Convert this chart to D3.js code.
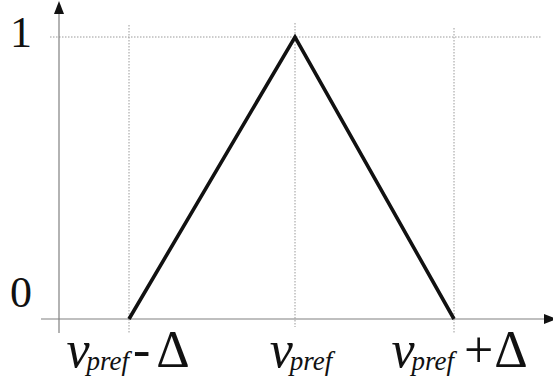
<!DOCTYPE html>
<html>
<head>
<meta charset="utf-8">
<script src="https://cdn.jsdelivr.net/npm/d3@7"></script>
<style>
  html, body { margin: 0; padding: 0; background: #fff; }
  svg { display: block; }
</style>
</head>
<body>
<div id="chart"></div>
<script>
// triangular membership: 0 at vpref-Δ, 1 at vpref, 0 at vpref+Δ
const xValues = [-1, 0, 1];
const yValues = [0, 1, 0];
const yTicks = [0, 1];
const yTickLabels = ['0', '1'];
const xTickLabels = [
  { sub: 'pref', sign: '-', delta: '\u0394', gap: 4, deltaGap: 6 },
  { sub: 'pref', sign: '', delta: '', gap: 0, deltaGap: 0 },
  { sub: 'pref', sign: '+', delta: '\u0394', gap: 10, deltaGap: 1 }
];

const width = 553, height = 387;
const serif = 'Liberation Serif, Times New Roman, serif';

const svg = d3.select('#chart')
  .append('svg')
  .attr('width', width)
  .attr('height', height);

// piecewise scale, the peak is slightly right of the midpoint in the picture
const x = d3.scaleLinear().domain([-1, 0, 1]).range([129, 295, 454]);
const y = d3.scaleLinear().domain([0, 1]).range([319, 37]);

const axisX = 59;          // y axis position
const axisColor = '#808080';
const gridColor = '#9a9a9a';

// dotted guides
svg.append('line')
  .attr('x1', 50).attr('x2', 542)
  .attr('y1', y(1)).attr('y2', y(1))
  .attr('stroke', gridColor)
  .attr('stroke-width', 1)
  .attr('stroke-dasharray', '1.5,1.5');

const guideTop = [25, 23, 28];
svg.selectAll('.guide')
  .data(xValues)
  .enter()
  .append('line')
  .attr('class', 'guide')
  .attr('x1', d => x(d)).attr('x2', d => x(d))
  .attr('y1', (d, i) => guideTop[i])
  .attr('y2', (d, i) => i === 1 ? 327 : 333)
  .attr('stroke', gridColor)
  .attr('stroke-width', 1)
  .attr('stroke-dasharray', '1.5,1.5');

// axes
svg.append('line')
  .attr('x1', axisX).attr('x2', axisX)
  .attr('y1', 10).attr('y2', 333)
  .attr('stroke', axisColor).attr('stroke-width', 1.2);
svg.append('path')
  .attr('d', `M${axisX},1 L${axisX - 5},14 L${axisX + 5},14 Z`)
  .attr('fill', '#111');

svg.append('line')
  .attr('x1', 41).attr('x2', 548)
  .attr('y1', y(0)).attr('y2', y(0))
  .attr('stroke', axisColor).attr('stroke-width', 1.2);
svg.append('path')
  .attr('d', `M557,${y(0)} L544,${y(0) - 5} L544,${y(0) + 5} Z`)
  .attr('fill', '#111');

// triangle
const line = d3.line()
  .x((d, i) => x(xValues[i]))
  .y(d => y(d));

svg.append('path')
  .datum(yValues)
  .attr('d', line)
  .attr('fill', 'none')
  .attr('stroke', '#111')
  .attr('stroke-width', 3.6)
  .attr('stroke-linejoin', 'miter');

// y tick labels
svg.selectAll('.ylab')
  .data(yTicks)
  .enter()
  .append('text')
  .attr('class', 'ylab')
  .attr('x', 21)
  .attr('y', d => y(d) + (d === 0 ? -12 : 10))
  .attr('text-anchor', 'middle')
  .attr('font-family', serif)
  .attr('font-size', 44)
  .attr('fill', '#111')
  .text((d, i) => yTickLabels[i]);

// x tick labels: v_pref with optional -Δ / +Δ
const labels = svg.selectAll('.xlab')
  .data(xValues)
  .enter()
  .append('text')
  .attr('class', 'xlab')
  .attr('y', 367)
  .attr('font-family', serif)
  .attr('fill', '#111');

labels.append('tspan')
  .attr('class', 'v')
  .attr('font-style', 'italic')
  .attr('font-size', 52)
  .text('v');
labels.append('tspan')
  .attr('class', 'sub')
  .attr('dx', -3)
  .attr('dy', 3)
  .attr('font-style', 'italic')
  .attr('font-size', 27)
  .text((d, i) => xTickLabels[i].sub);
labels.append('tspan')
  .attr('dx', (d, i) => xTickLabels[i].gap)
  .attr('dy', -3)
  .attr('font-size', 52)
  .text((d, i) => xTickLabels[i].sign);
labels.append('tspan')
  .attr('dx', (d, i) => xTickLabels[i].deltaGap)
  .attr('font-size', 52)
  .text((d, i) => xTickLabels[i].delta);

labels.each(function(d, i) {
  const t = d3.select(this);
  const w = t.select('.v').node().getComputedTextLength() - 3 +
            t.select('.sub').node().getComputedTextLength();
  // side labels: v_pref ends at the tick; middle label sits roughly centred
  const x0 = xTickLabels[i].sign ? x(d) - w : x(d) - w / 2 + 6;
  t.attr('x', x0);
});
</script>
</body>
</html>
